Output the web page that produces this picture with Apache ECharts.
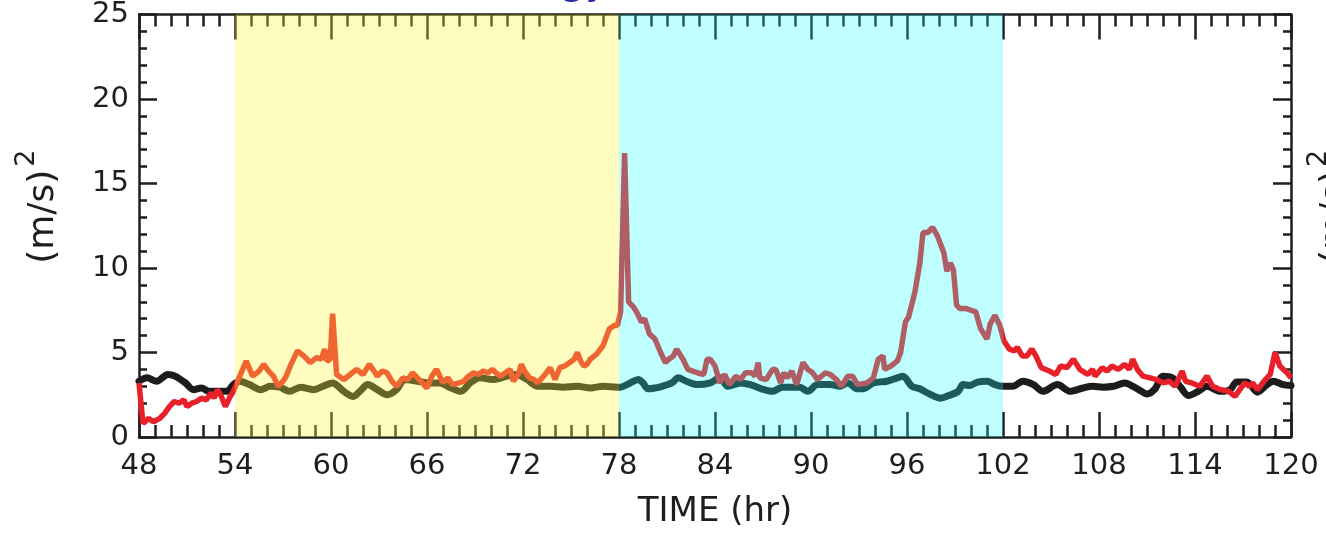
<!DOCTYPE html>
<html><head><meta charset="utf-8">
<script src="https://cdn.jsdelivr.net/npm/echarts@6/dist/echarts.min.js"></script>
<style>html,body{margin:0;padding:0;background:#fff}#c{width:1326px;height:534px}</style>
</head><body><div id="c"></div>
<script>
// ---- tick labels ----
const xTicks = [48, 54, 60, 66, 72, 78, 84, 90, 96, 102, 108, 114, 120];
const yTicks = [0, 5, 10, 15, 20, 25];
// ---- shaded periods (hr) ----
const bandRanges = [[54, 78], [78, 102]];
// ---- red series ----
const redTime = [48.0,48.25,48.6,48.9,49.3,49.6,49.9,50.2,50.5,50.8,51.0,51.3,51.6,51.9,52.2,52.5,52.7,52.9,53.1,53.4,53.7,53.9,
54.3,54.7,55.1,55.5,55.8,56.1,56.4,56.7,57.0,57.2,57.5,57.9,58.3,58.7,59.1,59.4,59.6,59.75,59.95,60.1,60.35,60.8,61.2,61.6,62.0,
62.4,62.9,63.2,63.5,63.8,64.1,64.5,64.8,65.1,65.4,65.6,66.0,66.3,66.6,67.0,67.3,67.6,68.0,68.3,68.6,68.9,69.2,69.5,69.8,70.1,
70.3,70.6,70.9,71.2,71.4,71.7,71.9,72.1,72.4,72.7,72.9,73.3,73.7,74.0,74.3,74.6,74.9,75.2,75.4,75.6,75.8,76.0,76.2,76.6,77.0,
77.4,77.7,77.9,78.1,78.35,78.6,78.9,79.1,79.4,79.6,79.9,80.25,80.6,80.9,81.1,81.4,81.6,82.0,82.3,82.6,82.9,83.3,83.5,83.7,84.0,
84.3,84.6,84.9,85.3,85.6,85.9,86.3,86.5,86.7,86.8,87.2,87.6,87.8,88.1,88.3,88.5,88.8,89.1,89.5,89.8,90.1,90.4,90.9,91.2,91.6,
91.9,92.3,92.6,92.9,93.5,93.9,94.2,94.5,94.6,95.0,95.4,95.6,95.9,96.1,96.5,96.8,97.0,97.3,97.6,97.9,98.3,98.5,98.7,98.9,99.1,
99.3,99.7,100.0,100.3,100.6,101.0,101.2,101.5,101.8,102.05,102.4,102.7,102.9,103.2,103.5,103.8,104.0,104.4,104.9,105.3,105.6,
106.0,106.4,106.8,107.3,107.6,107.75,108.2,108.5,108.8,109.2,109.6,109.9,110.1,110.4,110.75,111.2,111.6,112.0,112.4,112.75,
113.2,113.4,113.8,114.3,114.75,115.1,115.6,116.1,116.5,116.8,117.1,117.4,117.6,117.9,118.4,118.7,119.0,119.3,119.75,120.0];
const redValue = [3.2,0.8,1.1,0.9,1.1,1.4,1.8,2.1,2.0,2.2,1.8,2.0,2.1,2.3,2.2,2.6,2.3,2.8,2.5,1.8,2.4,2.7,
3.6,4.5,3.6,3.9,4.3,3.9,3.6,3.0,3.3,3.6,4.3,5.1,4.8,4.4,4.7,4.6,5.2,4.5,4.6,7.3,3.7,3.4,3.7,4.0,3.7,
4.3,3.6,3.9,3.8,3.3,3.0,3.5,3.4,3.8,3.5,3.3,2.9,3.6,4.0,3.2,3.5,3.1,3.2,3.3,3.6,3.8,3.7,3.9,3.8,4.0,
3.8,3.6,3.8,4.0,3.3,3.7,4.3,3.9,3.5,3.4,3.2,3.6,4.1,3.4,4.1,4.2,4.4,4.6,5.0,4.5,4.2,4.3,4.6,4.9,5.4,
6.4,6.6,6.6,7.4,16.8,8.0,7.7,7.4,6.8,7.0,6.1,5.8,5.0,4.4,4.6,4.8,5.2,4.6,4.0,3.9,3.8,3.7,4.6,4.6,4.2,
3.2,3.7,3.1,3.6,3.4,3.8,3.8,3.6,4.4,3.5,3.4,4.0,4.0,3.2,3.8,3.5,3.9,3.1,4.4,4.0,3.8,3.4,3.8,3.7,3.4,
3.0,3.6,3.6,3.1,3.2,3.5,4.6,4.8,4.0,4.2,4.5,5.0,6.8,7.1,8.6,10.3,12.1,12.1,12.4,11.9,10.9,9.8,10.3,9.9,7.8,
7.6,7.6,7.5,7.4,6.4,5.8,6.7,7.2,6.6,5.7,5.2,5.1,5.3,4.8,4.8,5.2,4.9,4.1,3.9,3.7,4.2,
4.1,4.6,4.0,3.7,4.0,3.6,4.1,3.9,4.2,4.0,4.3,4.0,4.6,4.0,3.6,3.5,3.4,3.2,3.3,3.0,
3.9,3.3,3.2,3.0,3.6,3.0,2.8,2.7,2.4,2.8,3.2,3.0,3.2,2.8,3.4,3.7,5.0,4.2,3.8,3.5];
// ---- black series ----
const blackTime = [48.0,48.5,49.1,49.8,50.25,50.9,51.4,51.9,52.4,53.1,53.5,53.9,54.3,54.9,55.6,56.2,56.8,57.4,58.1,58.9,59.5,
60.1,60.8,61.4,61.8,62.3,62.9,63.5,64.1,64.6,65.4,66.2,66.8,67.4,68.1,68.7,69.3,70.1,71.0,71.6,72.25,72.9,73.7,74.5,75.4,76.2,
77.0,77.9,78.1,78.7,79.2,79.5,79.8,80.25,80.7,81.3,81.7,82.2,82.9,83.7,84.3,84.8,85.6,86.2,86.9,87.6,88.2,89.3,89.8,90.4,91.2,
91.8,92.3,92.9,93.25,93.9,94.75,95.4,95.75,96.3,96.8,97.4,98.1,98.6,99.2,99.5,99.9,100.4,101.0,101.5,102.0,102.6,103.25,103.9,
104.5,105.4,106.2,107.0,107.6,108.25,108.9,109.6,110.4,111.0,111.5,112.0,112.6,113.1,113.6,114.2,114.75,115.6,116.2,116.6,
117.25,117.9,118.5,118.9,119.5,120.0];
const blackValue = [3.3,3.5,3.3,3.7,3.6,3.2,2.8,2.9,2.7,2.7,2.7,3.1,3.3,3.1,2.8,3.0,2.95,2.7,2.95,2.8,3.0,
3.2,2.7,2.4,2.7,3.1,2.8,2.5,2.8,3.4,3.3,3.2,3.2,2.95,2.7,3.2,3.5,3.4,3.6,3.7,3.4,3.0,3.0,2.95,3.0,2.9,
3.0,2.95,2.95,3.2,3.4,3.2,2.85,2.9,3.0,3.2,3.5,3.3,3.1,3.2,3.5,3.0,3.2,3.1,2.85,2.7,2.95,2.95,2.7,3.1,3.1,
3.0,3.2,2.85,2.85,3.2,3.3,3.5,3.6,3.0,2.85,2.55,2.3,2.45,2.7,3.1,3.05,3.25,3.3,3.1,3.0,3.0,3.3,3.1,
2.7,3.1,2.7,2.9,3.0,2.95,3.0,3.2,2.85,2.55,2.85,3.6,3.5,2.95,2.45,2.7,3.0,2.7,2.8,3.25,
3.25,2.65,3.1,3.3,3.1,3.05];

const FONT = 'DejaVu Sans';
const INK = '#1e1e1e';
const bandColors = ['rgba(255,245,64,0.33)', 'rgba(30,255,255,0.28)'];

const redData = redTime.map((t, i) => [t, redValue[i]]);
const blackData = blackTime.map((t, i) => [t, blackValue[i]]);

function xAxisCfg(pos, showLabel) {
  return {
    type: 'value', position: pos,
    min: xTicks[0], max: xTicks[xTicks.length - 1], interval: xTicks[1] - xTicks[0],
    axisLine: { show: true, onZero: false, lineStyle: { color: INK, width: 2.5 } },
    axisTick: { show: true, inside: true, length: 25, lineStyle: { color: INK, width: 2.5 } },
    minorTick: { show: true, splitNumber: 6, length: 12, lineStyle: { color: INK, width: 2.5 } },
    splitLine: { show: false }, minorSplitLine: { show: false },
    axisLabel: { show: showLabel, fontFamily: FONT, fontSize: 29, color: INK, margin: 15 },
    name: showLabel ? 'TIME (hr)' : '',
    nameLocation: 'middle', nameGap: 58,
    nameTextStyle: { fontFamily: FONT, fontSize: 34, color: INK }
  };
}
function yAxisCfg(pos, showLabel) {
  return {
    type: 'value', position: pos,
    min: yTicks[0], max: yTicks[yTicks.length - 1], interval: yTicks[1] - yTicks[0],
    axisLine: { show: true, onZero: false, lineStyle: { color: INK, width: 2.5 } },
    axisTick: { show: true, inside: true, length: 18, lineStyle: { color: INK, width: 2.5 } },
    minorTick: { show: true, splitNumber: 5, length: 8, lineStyle: { color: INK, width: 2.5 } },
    splitLine: { show: false }, minorSplitLine: { show: false },
    axisLabel: { show: showLabel, fontFamily: FONT, fontSize: 29, color: INK, margin: 10 },
    name: showLabel ? '{m|(m/s)}{sup|2}' : '',
    nameLocation: 'middle', nameGap: 64, nameRotate: 90,
    nameTextStyle: { fontFamily: FONT, fontSize: 36, color: INK, lineHeight: 62, padding: [0, 0, 0, 38],
      rich: {
        m: { fontFamily: FONT, fontSize: 36, color: INK, verticalAlign: 'middle' },
        sup: { fontFamily: FONT, fontSize: 27, color: INK, verticalAlign: 'top', padding: [0, 0, 0, 3] }
      } }
  };
}

const chart = echarts.init(document.getElementById('c'), null, { renderer: 'canvas' });
chart.setOption({
  animation: false,
  backgroundColor: '#ffffff',
  grid: { left: 139, right: 35, top: 14, bottom: 96, containLabel: false },
  xAxis: [xAxisCfg('bottom', true), xAxisCfg('top', false)],
  yAxis: [yAxisCfg('left', true), yAxisCfg('right', false)],
  series: [
    { type: 'line', name: 'black', data: blackData, xAxisIndex: 0, yAxisIndex: 0, z: 3,
      showSymbol: false, symbol: 'none', clip: true, smooth: 0.3,
      lineStyle: { color: '#1c1c1c', width: 7, join: 'round', cap: 'round' } },
    { type: 'line', name: 'red', data: redData, xAxisIndex: 0, yAxisIndex: 0, z: 4,
      showSymbol: false, symbol: 'none', clip: true,
      lineStyle: { color: '#e8202a', width: 5.5, join: 'bevel' } },
    { type: 'line', name: 'bands', data: [], xAxisIndex: 0, yAxisIndex: 0, z: 10, silent: true,
      markArea: { silent: true, z: 10,
        data: bandRanges.map((r, i) => [
          { xAxis: r[0], itemStyle: { color: bandColors[i], borderWidth: 0 } },
          { xAxis: r[1] }
        ]) } }
  ],
  graphic: [
    { type: 'text', x: 1017, y: -17, silent: true,
      style: { text: 'Kinetic Energy  (KE = ½ (u′² + v′²))', font: '40px "DejaVu Sans"', fill: '#2c2ca8',
               align: 'right', verticalAlign: 'middle' } },
    { type: 'text', x: 1336, y: 207, rotation: Math.PI / 2, silent: true,
      style: { text: '{m|(m/s)}{sup|2}', font: '36px "DejaVu Sans"', fill: INK, align: 'center', verticalAlign: 'middle',
               lineHeight: 62,
               rich: { m: { font: '36px "DejaVu Sans"', fill: INK, verticalAlign: 'middle' },
                       sup: { font: '27px "DejaVu Sans"', fill: INK, verticalAlign: 'top', padding: [0, 0, 0, 3] } } } }
  ]
});
</script>
</body></html>
